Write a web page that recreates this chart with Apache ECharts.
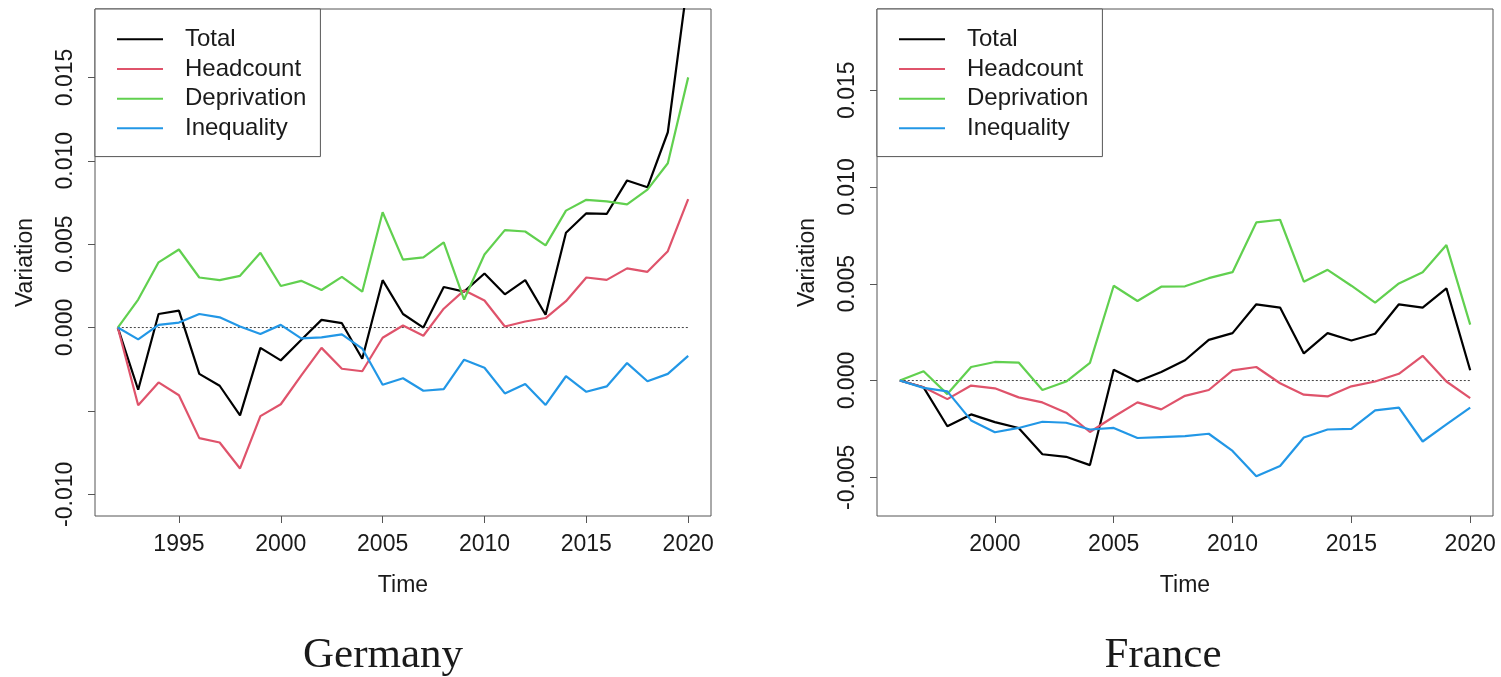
<!DOCTYPE html>
<html>
<head>
<meta charset="utf-8">
<script src="https://cdn.jsdelivr.net/npm/echarts@6/dist/echarts.min.js"></script>
<style>
  * { margin: 0; padding: 0; }
  body { background: #fff; }
  #main { width: 1501px; height: 677px; }
</style>
</head>
<body>
<div id="main"></div>
<script>
// Germany
var deYears = [1992, 1993, 1994, 1995, 1996, 1997, 1998, 1999, 2000, 2001, 2002, 2003, 2004, 2005, 2006,
  2007, 2008, 2009, 2010, 2011, 2012, 2013, 2014, 2015, 2016, 2017, 2018, 2019, 2020];
var deTotal = [0, -0.00373, 0.00081, 0.00101, -0.00278, -0.00349, -0.00527, -0.00122, -0.00197, -0.00075, 0.00046, 0.00026, -0.00187, 0.00284, 0.00081,
  0.0000, 0.00243, 0.00215, 0.00324, 0.00199, 0.00284, 0.00077, 0.00568, 0.00685, 0.00681, 0.00882, 0.00841, 0.01171, 0.0210];
var deHead = [0, -0.00466, -0.00329, -0.00406, -0.00663, -0.00689, -0.00845, -0.00531, -0.00460, -0.00288, -0.00122, -0.00247, -0.00262, -0.00061, 0.00012,
  -0.00049, 0.00113, 0.00223, 0.00162, 0.00006, 0.00036, 0.00057, 0.00158, 0.00300, 0.00286, 0.00355, 0.00334, 0.00458, 0.00770];
var deDep = [0, 0.00168, 0.00391, 0.00468, 0.00300, 0.00284, 0.00310, 0.00448, 0.00249, 0.00280, 0.00225, 0.00304, 0.00215, 0.00691, 0.00407,
  0.00421, 0.00511, 0.00168, 0.00438, 0.00584, 0.00576, 0.00493, 0.00701, 0.00766, 0.00756, 0.00738, 0.00827, 0.00985, 0.01500];
var deIneq = [0, -0.00071, 0.00016, 0.00030, 0.00081, 0.00061, 0.00006, -0.00039, 0.00016, -0.00065, -0.00059, -0.00041, -0.00126, -0.00343, -0.00304,
  -0.00379, -0.00369, -0.00193, -0.00241, -0.00395, -0.00338, -0.00464, -0.00292, -0.00385, -0.00353, -0.00213, -0.00322, -0.00278, -0.00170];

// France
var frYears = [1996, 1997, 1998, 1999, 2000, 2001, 2002, 2003, 2004, 2005, 2006, 2007, 2008,
  2009, 2010, 2011, 2012, 2013, 2014, 2015, 2016, 2017, 2018, 2019, 2020];
var frTotal = [0, -0.00035, -0.00236, -0.00175, -0.00215, -0.00245, -0.00381, -0.00394, -0.00437, 0.00056, -0.00005, 0.00044, 0.00105,
  0.00210, 0.00245, 0.00394, 0.00377, 0.00140, 0.00245, 0.00207, 0.00242, 0.00394, 0.00377, 0.00476, 0.00053];
var frHead = [0, -0.00035, -0.00096, -0.00026, -0.00040, -0.00087, -0.00113, -0.00166, -0.00266, -0.00187, -0.00113, -0.00149, -0.00079,
  -0.00049, 0.00053, 0.00070, -0.00014, -0.00073, -0.00082, -0.00030, -0.00005, 0.00035, 0.00128, -0.00005, -0.00091];
var frDep = [0, 0.00048, -0.00070, 0.00070, 0.00096, 0.00093, -0.00049, -0.00005, 0.00091, 0.00490, 0.00411, 0.00485, 0.00487,
  0.00529, 0.00560, 0.00817, 0.00831, 0.00511, 0.00572, 0.00490, 0.00403, 0.00502, 0.00560, 0.00700, 0.00289];
var frIneq = [0, -0.00038, -0.00056, -0.00206, -0.00267, -0.00245, -0.00213, -0.00218, -0.00253, -0.00245, -0.00297, -0.00292, -0.00287,
  -0.00275, -0.00364, -0.00495, -0.00442, -0.00294, -0.00253, -0.00250, -0.00154, -0.00140, -0.00315, -0.00227, -0.00140];

var xTicksDE = [1995, 2000, 2005, 2010, 2015, 2020];
var xTicksFR = [2000, 2005, 2010, 2015, 2020];
var yTicksDE = [-0.010, -0.005, 0, 0.005, 0.010, 0.015];
var yLabelsDE = [-0.010, 0, 0.005, 0.010, 0.015];
var yTicksFR = [-0.005, 0, 0.005, 0.010, 0.015];

var names = ['Total', 'Headcount', 'Deprivation', 'Inequality'];
var colors = ['#000000', '#DF536B', '#61D04F', '#2297E6'];

var font = 'Liberation Sans, Arial, Helvetica, sans-serif';
var textColor = '#1a1a1a';
var boxColor = '#555';

function pairs(xs, ys) {
  return xs.map(function (x, i) { return [x, ys[i]]; });
}

function makeX(idx, min, max, ticks) {
  return {
    gridIndex: idx, type: 'value', min: min, max: max,
    name: 'Time', nameLocation: 'middle', nameGap: 58,
    nameTextStyle: { fontFamily: font, fontSize: 23, color: textColor },
    axisLine: { show: false, onZero: false },
    splitLine: { show: false },
    axisTick: { show: true, length: 7, lineStyle: { color: boxColor }, customValues: ticks },
    axisLabel: { customValues: ticks, margin: 17, fontFamily: font, fontSize: 23, color: textColor,
      formatter: function (v) { return String(Math.round(v)); } }
  };
}

function makeY(idx, min, max, ticks, labels) {
  return {
    gridIndex: idx, type: 'value', min: min, max: max,
    name: 'Variation', nameLocation: 'middle', nameGap: 58,
    nameTextStyle: { fontFamily: font, fontSize: 23, color: textColor },
    axisLine: { show: false, onZero: false },
    splitLine: { show: false },
    axisTick: { show: true, length: 7, lineStyle: { color: boxColor }, customValues: ticks },
    axisLabel: { customValues: labels, rotate: 90, margin: 18, fontFamily: font, fontSize: 23, color: textColor,
      formatter: function (v) { return v.toFixed(3); } }
  };
}

function makeSeries(idx, years, lists) {
  var out = lists.map(function (vals, i) {
    return {
      name: names[i], type: 'line', xAxisIndex: idx, yAxisIndex: idx,
      data: pairs(years, vals), symbol: 'none', clip: true,
      lineStyle: { color: colors[i], width: 2.2 }, itemStyle: { color: colors[i] },
      emphasis: { disabled: true }, z: 3
    };
  });
  out.push({
    name: 'zero', type: 'line', xAxisIndex: idx, yAxisIndex: idx,
    data: [[years[0], 0], [years[years.length - 1], 0]], symbol: 'none',
    lineStyle: { color: '#444', width: 1, type: [2, 2] }, silent: true, z: 2
  });
  return out;
}

function makeLegend(left) {
  return {
    orient: 'vertical', left: left, top: 9,
    data: names,
    icon: 'path://M0,0 L46,0 L46,2 L0,2 Z',
    itemWidth: 46, itemHeight: 2, itemGap: 5.2,
    padding: [18, 14, 16, 22],
    borderColor: boxColor, borderWidth: 1, borderRadius: 0,
    backgroundColor: '#fff',
    selectedMode: false,
    textStyle: { fontFamily: font, fontSize: 24, color: textColor, lineHeight: 24.5, padding: [0, 0, 0, 17] }
  };
}

var chart = echarts.init(document.getElementById('main'));
chart.setOption({
  animation: false,
  backgroundColor: '#fff',
  grid: [
    { left: 95, top: 9, width: 616, height: 507, show: true, borderColor: boxColor, borderWidth: 1, backgroundColor: 'transparent' },
    { left: 877, top: 9, width: 616, height: 507, show: true, borderColor: boxColor, borderWidth: 1, backgroundColor: 'transparent' }
  ],
  xAxis: [
    makeX(0, 1990.88, 2021.12, xTicksDE),
    makeX(1, 1995.04, 2020.96, xTicksFR)
  ],
  yAxis: [
    makeY(0, -0.0113, 0.0191, yTicksDE, yLabelsDE),
    makeY(1, -0.0070, 0.0192, yTicksFR, yTicksFR)
  ],
  legend: [makeLegend(95), makeLegend(877)],
  series: makeSeries(0, deYears, [deTotal, deHead, deDep, deIneq])
    .concat(makeSeries(1, frYears, [frTotal, frHead, frDep, frIneq])),
  graphic: [
    { type: 'text', x: 383, y: 656, style: { text: 'Germany', x: 0, y: 0, align: 'center', verticalAlign: 'middle',
      fontFamily: 'Liberation Serif, DejaVu Serif, serif', fontSize: 43, fill: textColor } },
    { type: 'text', x: 1163, y: 656, style: { text: 'France', x: 0, y: 0, align: 'center', verticalAlign: 'middle',
      fontFamily: 'Liberation Serif, DejaVu Serif, serif', fontSize: 43, fill: textColor } }
  ]
});
</script>
</body>
</html>
